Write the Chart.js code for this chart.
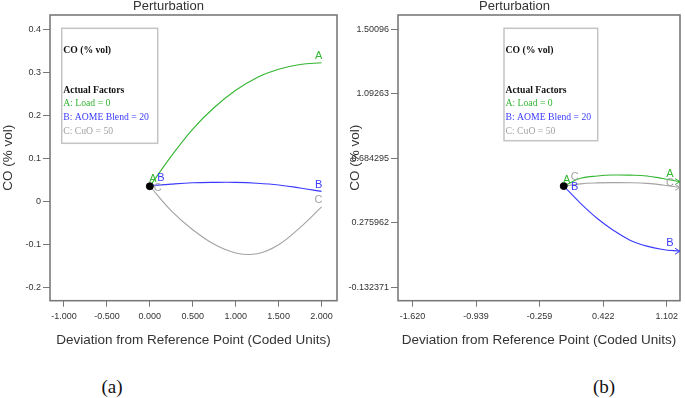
<!DOCTYPE html>
<html>
<head>
<meta charset="utf-8">
<script src="https://cdn.jsdelivr.net/npm/chart.js@4.4.1/dist/chart.umd.min.js"></script>
<style>
    body { margin: 0; background: #fff; width: 685px; height: 398px; position: relative; overflow: hidden; }
    .painel { position: absolute; top: 0; }
    #painelA { left: 0; }
    #painelB { left: 345px; }
    .legenda-painel { position: absolute; top: 387px; transform: translate(-50%, -50%); font-family: "Liberation Serif", "Times New Roman", serif; font-size: 19px; color: #111; }
</style>
</head>
<body>
<canvas class="painel" id="painelA" width="345" height="360"></canvas>
<canvas class="painel" id="painelB" width="340" height="360"></canvas>
<div class="legenda-painel" style="left:112px">(a)</div>
<div class="legenda-painel" style="left:604px">(b)</div>

<script>
// dados do painel (a)
var desvioA = [0, 0.25, 0.5, 0.75, 1.0, 1.25, 1.5, 1.75, 2.0];
var coLoadA = [0.035, 0.105, 0.168, 0.218, 0.258, 0.288, 0.307, 0.318, 0.322];
var coBlendA = [0.036, 0.040, 0.043, 0.044, 0.044, 0.042, 0.038, 0.031, 0.023];
var coCuoA = [0.035, -0.022, -0.066, -0.100, -0.120, -0.122, -0.101, -0.061, -0.013];
var refA = [0, 0.035];
var limitesXA = [-1.163, 2.18];
var limitesYA = [-0.231, 0.433];
var ticksXA = [-1, -0.5, 0, 0.5, 1, 1.5, 2];
var rotulosXA = ['-1.000', '-0.500', '0.000', '0.500', '1.000', '1.500', '2.000'];
var ticksYA = [-0.2, -0.1, 0, 0.1, 0.2, 0.3, 0.4];
var rotulosYA = ['-0.2', '-0.1', '0', '0.1', '0.2', '0.3', '0.4'];

// dados do painel (b)
var desvioB = [0, 0.18, 0.36, 0.53, 0.71, 0.89, 1.06, 1.245];
var coLoadB = [0.508, 0.557, 0.572, 0.578, 0.577, 0.572, 0.556, 0.536];
var coBlendB = [0.508, 0.399, 0.303, 0.229, 0.166, 0.128, 0.107, 0.096];
var coCuoB = [0.508, 0.522, 0.528, 0.530, 0.529, 0.525, 0.515, 0.500];
var refB = [0, 0.508];
var limitesXB = [-1.775, 1.245];
var limitesYB = [-0.217, 1.590];
var ticksXB = [-1.620, -0.939, -0.259, 0.422, 1.102];
var rotulosXB = ['-1.620', '-0.939', '-0.259', '0.422', '1.102'];
var ticksYB = [-0.132371, 0.275962, 0.684295, 1.09263, 1.50096];
var rotulosYB = ['-0.132371', '0.275962', '0.684295', '1.09263', '1.50096'];

// textos
var tituloGrafico = 'Perturbation';
var tituloX = 'Deviation from Reference Point (Coded Units)';
var tituloY = 'CO (% vol)';
var fatores = ['A: Load = 0', 'B: AOME Blend = 20', 'C: CuO = 50'];
var letras = ['A', 'B', 'C'];

var VERDE = '#33b633';
var AZUL = '#3b3bff';
var CINZA = '#a3a3a3';
var SANS = '"Liberation Sans", Arial, sans-serif';
var SERIF = '"Liberation Serif", "Times New Roman", serif';

function pares(xs, ys) {
    return xs.map(function (x, i) { return { x: x, y: ys[i] }; });
}

// moldura em volta da area do grafico
var pluginMoldura = {
    id: 'moldura',
    afterDatasetsDraw: function (chart) {
        var a = chart.chartArea;
        var ctx = chart.ctx;
        ctx.save();
        ctx.strokeStyle = '#7a7a7a';
        ctx.lineWidth = 1.6;
        ctx.strokeRect(a.left, a.top, a.right - a.left, a.bottom - a.top);
        ctx.restore();
    }
};

// letras A/B/C no inicio e fim das curvas (e setas quando a curva sai do grafico)
var pluginLetras = {
    id: 'letras',
    afterDatasetsDraw: function (chart) {
        var ctx = chart.ctx;
        ctx.save();
        ctx.font = '11px ' + SANS;
        ctx.textAlign = 'center';
        ctx.textBaseline = 'middle';
        chart.data.datasets.forEach(function (ds, i) {
            if (!ds.letra) return;
            var pts = chart.getDatasetMeta(i).data;
            var ini = pts[0];
            var fim = pts[pts.length - 1];
            ctx.fillStyle = ds.borderColor;
            ctx.fillText(ds.letra, ini.x + ds.desIni[0], ini.y + ds.desIni[1]);
            ctx.fillText(ds.letra, fim.x + ds.desFim[0], fim.y + ds.desFim[1]);
            if (ds.seta) {
                ctx.strokeStyle = ds.borderColor;
                ctx.lineWidth = 1;
                ctx.beginPath();
                ctx.moveTo(fim.x - 5, fim.y - 3);
                ctx.lineTo(fim.x, fim.y);
                ctx.lineTo(fim.x - 5, fim.y + 3);
                ctx.stroke();
            }
        });
        ctx.restore();
    }
};

// caixa com os fatores
var pluginCaixa = {
    id: 'caixa',
    afterDraw: function (chart, args, opts) {
        var ctx = chart.ctx;
        ctx.save();
        ctx.strokeStyle = '#c4c4c4';
        ctx.lineWidth = 1.5;
        ctx.strokeRect(opts.x, opts.y, opts.w, opts.h);
        ctx.textBaseline = 'middle';
        ctx.textAlign = 'left';
        var tx = opts.x + 1.5;
        ctx.fillStyle = '#111';
        ctx.font = 'bold 9.7px ' + SERIF;
        ctx.fillText(tituloY, tx, opts.y + 21.7);
        ctx.fillText('Actual Factors', tx, opts.y + 62.4);
        ctx.font = '9.7px ' + SERIF;
        var cores = [VERDE, AZUL, CINZA];
        var dys = [75, 89.4, 102.7];
        fatores.forEach(function (f, i) {
            ctx.fillStyle = cores[i];
            ctx.fillText(f, tx, opts.y + dys[i]);
        });
        ctx.restore();
    }
};

function criarGrafico(idCanvas, cfg) {
    var linha = function (ys, cor, letra, desIni, desFim) {
        return {
            data: pares(cfg.desvio, ys),
            borderColor: cor,
            borderWidth: 1.1,
            pointRadius: 0,
            showLine: true,
            tension: 0.4,
            letra: letra,
            desIni: desIni,
            desFim: desFim,
            seta: cfg.setas
        };
    };

    var datasets = [
        {
            data: [{ x: cfg.ref[0], y: cfg.ref[1] }],
            pointRadius: 3.5,
            pointBackgroundColor: '#000',
            pointBorderColor: '#000',
            showLine: false
        },
        linha(cfg.load, VERDE, letras[0], cfg.des[0][0], cfg.des[0][1]),
        linha(cfg.blend, AZUL, letras[1], cfg.des[1][0], cfg.des[1][1]),
        linha(cfg.cuo, CINZA, letras[2], cfg.des[2][0], cfg.des[2][1])
    ];

    return new Chart(document.getElementById(idCanvas), {
        type: 'scatter',
        data: { datasets: datasets },
        plugins: [pluginMoldura, pluginLetras, pluginCaixa],
        options: {
            responsive: false,
            animation: false,
            layout: { padding: { left: 0, right: cfg.margemDir, top: 0, bottom: 0 } },
            plugins: {
                legend: { display: false },
                tooltip: { enabled: false },
                title: {
                    display: true,
                    text: tituloGrafico,
                    color: '#333',
                    font: { family: SANS, size: 13, weight: 'normal', lineHeight: 1.0 },
                    padding: { top: 0, bottom: 2 }
                },
                caixa: cfg.caixa
            },
            scales: {
                x: {
                    type: 'linear',
                    min: cfg.limX[0],
                    max: cfg.limX[1],
                    afterBuildTicks: function (s) { s.ticks = cfg.ticksX.map(function (v) { return { value: v }; }); },
                    afterFit: function (s) { s.height = 59.3; },
                    ticks: {
                        callback: function (v, i) { return cfg.rotX[i]; },
                        font: { family: SANS, size: 9 },
                        color: '#333',
                        padding: 4,
                        maxRotation: 0,
                        autoSkip: false
                    },
                    grid: { drawOnChartArea: false, drawTicks: true, tickLength: 6, color: '#777' },
                    border: { display: false },
                    title: {
                        display: true,
                        text: tituloX,
                        color: '#333',
                        font: { family: SANS, size: 13.5 },
                        padding: { top: 0, bottom: 12 }
                    }
                },
                y: {
                    type: 'linear',
                    min: cfg.limY[0],
                    max: cfg.limY[1],
                    afterBuildTicks: function (s) { s.ticks = cfg.ticksY.map(function (v) { return { value: v }; }); },
                    afterFit: function (s) { s.width = cfg.largY; },
                    ticks: {
                        callback: function (v, i) { return cfg.rotY[i]; },
                        font: { family: SANS, size: 9 },
                        color: '#333',
                        padding: 2,
                        autoSkip: false
                    },
                    grid: { drawOnChartArea: false, drawTicks: true, tickLength: 7, color: '#777' },
                    border: { display: false },
                    title: {
                        display: true,
                        text: tituloY,
                        color: '#333',
                        font: { family: SANS, size: 13.5 },
                        padding: { top: cfg.padTituloY, bottom: 0 }
                    }
                }
            }
        }
    });
}

criarGrafico('painelA', {
    desvio: desvioA, load: coLoadA, blend: coBlendA, cuo: coCuoA, ref: refA,
    limX: limitesXA, limY: limitesYA,
    ticksX: ticksXA, rotX: rotulosXA, ticksY: ticksYA, rotY: rotulosYA,
    largY: 50, margemDir: 8, padTituloY: 0, setas: false,
    des: [[[3, -7], [-3, -7]], [[11, -8], [-3, -6]], [[8, 2], [-3, -7]]],
    caixa: { x: 61.7, y: 28.3, w: 96, h: 115 }
});

criarGrafico('painelB', {
    desvio: desvioB, load: coLoadB, blend: coBlendB, cuo: coCuoB, ref: refB,
    limX: limitesXB, limY: limitesYB,
    ticksX: ticksXB, rotX: rotulosXB, ticksY: ticksYB, rotY: rotulosYB,
    largY: 53, margemDir: 1, padTituloY: 2, setas: true,
    des: [[[3, -6], [-10, -8]], [[11, 1], [-10, -8]], [[11, -9], [-10, -4]]],
    caixa: { x: 159, y: 28.3, w: 93.7, h: 112.4 }
});
</script>
</body>
</html>
